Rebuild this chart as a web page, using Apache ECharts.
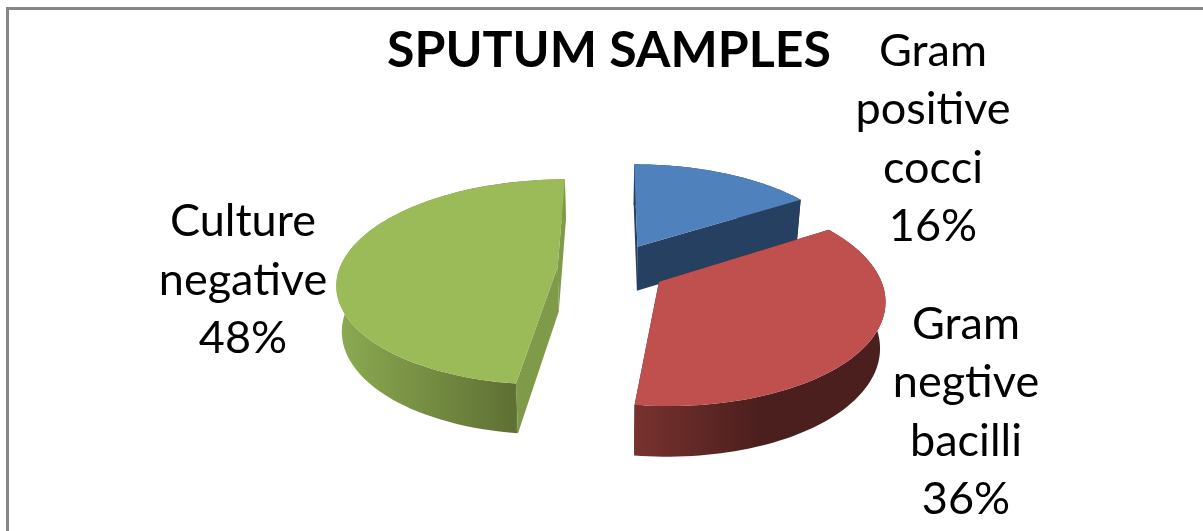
<!DOCTYPE html>
<html>
<head>
<meta charset="utf-8">
<title>Sputum samples</title>
<script src="https://cdn.jsdelivr.net/npm/echarts@6/dist/echarts.min.js"></script>
<style>
  html, body { margin: 0; padding: 0; background: #fff; }
  #chart { width: 1203px; height: 531px; }
</style>
</head>
<body>
<div id="chart"></div>
<script>
  var chartTitle = 'SPUTUM SAMPLES';
  var categories = ['Gram\npositive\ncocci', 'Gram\nnegtive\nbacilli', 'Culture\nnegative'];
  var percents = [16, 36, 48];

  var topColors = ['#4f81bd', '#c0504d', '#9bbb59'];
  var edgeColors = ['#254061', '#4b1f1d', '#7f9a48'];
  var labelPos = [[933, 139], [966, 412], [243, 280]];

  // perspective of the tilted disc
  var view = { cx: 612, cy: 268, a: 218, b: 100.8, p: 0.152, depth: 45, shrink: 0.98, explode: 0.25 };

  function project(u, v, bottom) {
      var s = 1 / (1 + view.p * v);
      var x = view.cx + view.a * u * s;
      var y = view.cy - view.b * v * s;
      if (bottom) {
          x = view.cx + (x - view.cx) * view.shrink;
          y = y + view.depth * (1 + (s - 1) * 0.6);
      }
      return [x, y];
  }

  function wallGradient(i) {
      if (i == 1) {
          return new echarts.graphic.LinearGradient(0, 0, 1, 0, [
              { offset: 0, color: '#78322f' },
              { offset: 0.5, color: '#4b1f1d' },
              { offset: 1, color: '#4b1f1d' }
          ]);
      }
      if (i == 2) {
          return new echarts.graphic.LinearGradient(0, 0, 1, 0, [
              { offset: 0, color: '#8cab52' },
              { offset: 0.78, color: '#5f7033' },
              { offset: 0.8, color: '#7f9a48' },
              { offset: 1, color: '#7f9a48' }
          ]);
      }
      return edgeColors[i];
  }

  function renderSlice(params, api) {
      var i = params.dataIndex;
      var before = 0;
      for (var k = 0; k < i; k++) before += percents[k];
      var start = before / 100 * Math.PI * 2;
      var end = (before + api.value(0)) / 100 * Math.PI * 2;
      var mid = (start + end) / 2;
      var ou = view.explode * Math.sin(mid);
      var ov = view.explode * Math.cos(mid);

      var rimTop = [], rimBottom = [];
      for (var n = 0; n <= 80; n++) {
          var t = start + (end - start) * n / 80;
          rimTop.push(project(ou + Math.sin(t), ov + Math.cos(t), false));
          rimBottom.push(project(ou + Math.sin(t), ov + Math.cos(t), true));
      }
      var apexTop = project(ou, ov, false);
      var apexBottom = project(ou, ov, true);

      var faces = [];
      // the two cut walls, outer wall goes over them
      faces.push({
          type: 'polygon',
          shape: { points: [apexTop, rimTop[0], rimBottom[0], apexBottom] },
          style: { fill: edgeColors[i] }
      });
      faces.push({
          type: 'polygon',
          shape: { points: [apexTop, rimTop[80], rimBottom[80], apexBottom] },
          style: { fill: edgeColors[i] }
      });
      // outer wall
      faces.push({
          type: 'polygon',
          shape: { points: rimTop.concat(rimBottom.slice().reverse()) },
          style: { fill: wallGradient(i) }
      });
      // top face
      faces.push({
          type: 'polygon',
          shape: { points: [apexTop].concat(rimTop) },
          style: { fill: topColors[i] }
      });
      faces.push({
          type: 'text',
          style: {
              x: labelPos[i][0],
              y: labelPos[i][1],
              text: categories[i] + '\n' + api.value(0) + '%',
              fill: '#000',
              font: '45px Lato',
              lineHeight: 58.5,
              align: 'center',
              verticalAlign: 'middle'
          }
      });
      return { type: 'group', children: faces };
  }

  var chart = echarts.init(document.getElementById('chart'), null, { renderer: 'canvas' });
  chart.setOption({
      animation: false,
      title: {
          text: chartTitle,
          left: 604,
          top: 21,
          textAlign: 'center',
          textStyle: { fontFamily: 'Lato', fontWeight: 'bold', fontSize: 50, color: '#000' }
      },
      graphic: [
          { type: 'rect', shape: { x: 6, y: 7, width: 1197, height: 3 }, style: { fill: '#868686' } },
          { type: 'rect', shape: { x: 6, y: 7, width: 3, height: 524 }, style: { fill: '#868686' } }
      ],
      series: [{
          type: 'custom',
          coordinateSystem: 'none',
          renderItem: renderSlice,
          data: percents.map(function (p) { return [p]; })
      }]
  });
</script>
</body>
</html>
